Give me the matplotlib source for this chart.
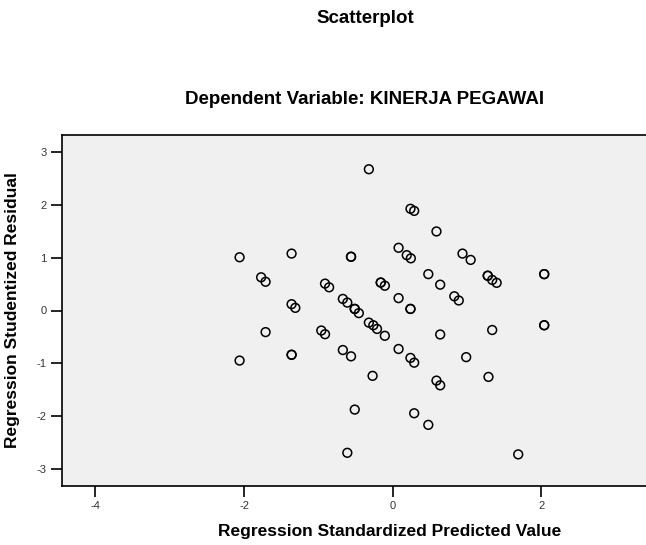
import numpy as np
import matplotlib.pyplot as plt

plt.rcParams['font.family'] = ['Liberation Sans', 'DejaVu Sans']
plt.rcParams['axes.unicode_minus'] = False

# Nilai prediksi terstandar (x) dan residual studentized (y)
predicted = [
    -2.06, -1.77, -1.71, -1.36, -1.36, -1.31, -1.71, -2.06, -1.36, -1.36,
    -0.96, -0.91, -0.32, 0.24, 0.29, 0.59, -0.56, -0.56, 0.08, 0.19,
    0.245, 0.94, 1.05, -0.91, -0.855, -0.16, -0.16, -0.105, 0.48, 0.64,
    1.28, 1.28, 1.34, 1.40, 2.04, 2.04, 0.83, 0.89, -0.67, -0.61,
    0.08, 0.24, 0.24, -0.51, -0.51, -0.455, -0.32, -0.26, -0.21, -0.105,
    0.64, 1.34, 2.04, 2.04, -0.67, -0.56, 0.08, 0.24, 0.29, 0.99,
    -0.27, 0.59, 0.64, 1.29, -0.51, 0.29, 0.48, -0.61, 1.69,
]
residual = [
    1.01, 0.63, 0.545, 1.08, -0.84, 0.05, -0.41, -0.95, -0.84, 0.12,
    -0.38, -0.45, 2.68, 1.93, 1.89, 1.50, 1.02, 1.02, 1.19, 1.05,
    0.99, 1.08, 0.96, 0.51, 0.44, 0.53, 0.53, 0.47, 0.69, 0.49,
    0.66, 0.66, 0.58, 0.525, 0.69, 0.69, 0.27, 0.19, 0.22, 0.15,
    0.235, 0.03, 0.03, 0.03, 0.03, -0.05, -0.23, -0.28, -0.35, -0.48,
    -0.455, -0.37, -0.28, -0.28, -0.75, -0.87, -0.73, -0.90, -0.99, -0.885,
    -1.24, -1.33, -1.42, -1.26, -1.88, -1.95, -2.17, -2.70, -2.73,
]

x_ticks = [-4, -2, 0, 2]
y_ticks = [-3, -2, -1, 0, 1, 2, 3]

fig = plt.figure(figsize=(6.46, 5.45), dpi=100)
ax = fig.add_axes([62 / 646, 59 / 545, 584 / 646, 351 / 545])
ax.set_facecolor('#f0f0f0')

ax.scatter(predicted, residual, s=40, facecolors='none', edgecolors='black',
           linewidths=1.1, zorder=3)

ax.set_xlim(-4.45, 3.41)
ax.set_ylim(-3.33, 3.33)
ax.set_xticks(x_ticks)
ax.set_yticks(y_ticks)
ax.tick_params(axis='both', direction='out', length=8, width=1.2,
               labelsize=8, colors='black', labelcolor='#333333', pad=3)

for side in ['left', 'bottom', 'top']:
    ax.spines[side].set_linewidth(1.2)
    ax.spines[side].set_color('black')
ax.spines['right'].set_visible(False)

ax.set_xlabel('Regression Standardized Predicted Value', fontsize=12.5,
              fontweight='bold')
ax.set_ylabel('Regression Studentized Residual', fontsize=12.5,
              fontweight='bold')
ax.xaxis.set_label_coords(0.5616, -0.130)
ax.yaxis.set_label_coords(-0.0848, 0.5)
ax.xaxis.label.set_va('center')
ax.yaxis.label.set_va('center')

fig.text(365 / 646, 1 - 18.5 / 545, 'Scatterplot', ha='center', va='center',
         fontsize=13.5, fontweight='bold')
fig.text(365 / 646, 1 - 100 / 545, 'Dependent Variable: KINERJA PEGAWAI',
         ha='center', va='center', fontsize=13.5, fontweight='bold')

fig.savefig('out.png', dpi=100)
